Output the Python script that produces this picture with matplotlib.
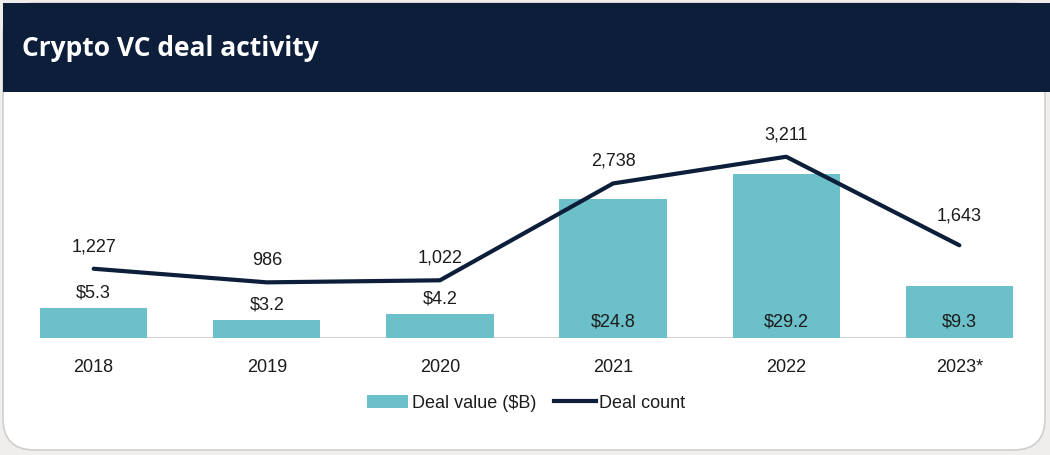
import matplotlib.pyplot as plt
from matplotlib.patches import FancyBboxPatch, Rectangle, Patch
from matplotlib.lines import Line2D

# data
years = ['2018', '2019', '2020', '2021', '2022', '2023*']
deal_value = [5.3, 3.2, 4.2, 24.8, 29.2, 9.3]      # $B
deal_count = [1227, 986, 1022, 2738, 3211, 1643]
value_labels = ['$5.3', '$3.2', '$4.2', '$24.8', '$29.2', '$9.3']
count_labels = ['1,227', '986', '1,022', '2,738', '3,211', '1,643']

navy = '#0c1e39'
teal = '#6bc0c9'
txt = '#1c1c1c'
W, H = 1050, 455

plt.rcParams['font.family'] = ['Liberation Sans', 'DejaVu Sans']

fig = plt.figure(figsize=(W / 100, H / 100), dpi=100)
fig.patch.set_facecolor('#efeeec')

# card + header (behind the axes)
card = FancyBboxPatch((3 / W, 5 / H), 1042 / W, 447 / H,
                      boxstyle='round,pad=0,rounding_size=0.03',
                      transform=fig.transFigure, facecolor='white',
                      edgecolor='#cfcfcf', linewidth=1.2, mutation_aspect=W / H,
                      zorder=-2)
fig.patches.append(card)
fig.patches.append(Rectangle((3 / W, (H - 92) / H), 1047 / W, 89 / H,
                             transform=fig.transFigure, facecolor=navy,
                             edgecolor='none', zorder=-1))
fig.text(22 / W, (H - 48) / H, 'Crypto VC deal activity', color='white',
         fontsize=19, fontweight='bold', family=['Open Sans', 'DejaVu Sans'],
         va='center', ha='left')

# axes: baseline at y=338 px, bars span x 40..1013 px
ax = fig.add_axes([40 / W, (H - 338) / H, 973 / W, 238 / H])
ax.set_facecolor('none')
x = list(range(len(years)))
ax.bar(x, deal_value, width=0.62, color=teal, zorder=2)
ax.set_xlim(-0.31, 5.31)
ax.set_ylim(0, 238 / 5.62)
ax.axhline(0, color='#cdc8c2', linewidth=1.2, zorder=1)
for s in ax.spines.values():
    s.set_visible(False)
ax.set_yticks([])
ax.set_xticks(x)
ax.set_xticklabels(years, fontsize=13, color=txt)
ax.tick_params(axis='x', length=0, pad=15)

for i, v in enumerate(deal_value):
    if v > 8:
        ax.text(i, 16 / 5.62, value_labels[i], ha='center', va='center',
                fontsize=13, color=txt, zorder=3)
    else:
        ax.text(i, v + 15 / 5.62, value_labels[i], ha='center', va='center',
                fontsize=13, color=txt, zorder=3)

ax2 = ax.twinx()
ax2.set_ylim(0, 238 / 0.05645)
ax2.plot(x, deal_count, color=navy, linewidth=3, solid_capstyle='round', zorder=4)
ax2.set_yticks([])
for s in ax2.spines.values():
    s.set_visible(False)
for i, c in enumerate(deal_count):
    off = 29 if i == 5 else 22
    ax2.text(i, c + off / 0.05645, count_labels[i], ha='center', va='center',
             fontsize=13, color=txt)

handles = [Patch(facecolor=teal, edgecolor='none', label='Deal value ($B)'),
           Line2D([0], [0], color=navy, linewidth=3, label='Deal count')]
fig.legend(handles=handles, loc='center', bbox_to_anchor=(526 / W, (H - 403) / H),
           ncol=2, frameon=False, fontsize=13, handlelength=2.3,
           handletextpad=0.2, columnspacing=1.0, labelcolor=txt)

fig.savefig('out.png', dpi=100, facecolor=fig.get_facecolor())
